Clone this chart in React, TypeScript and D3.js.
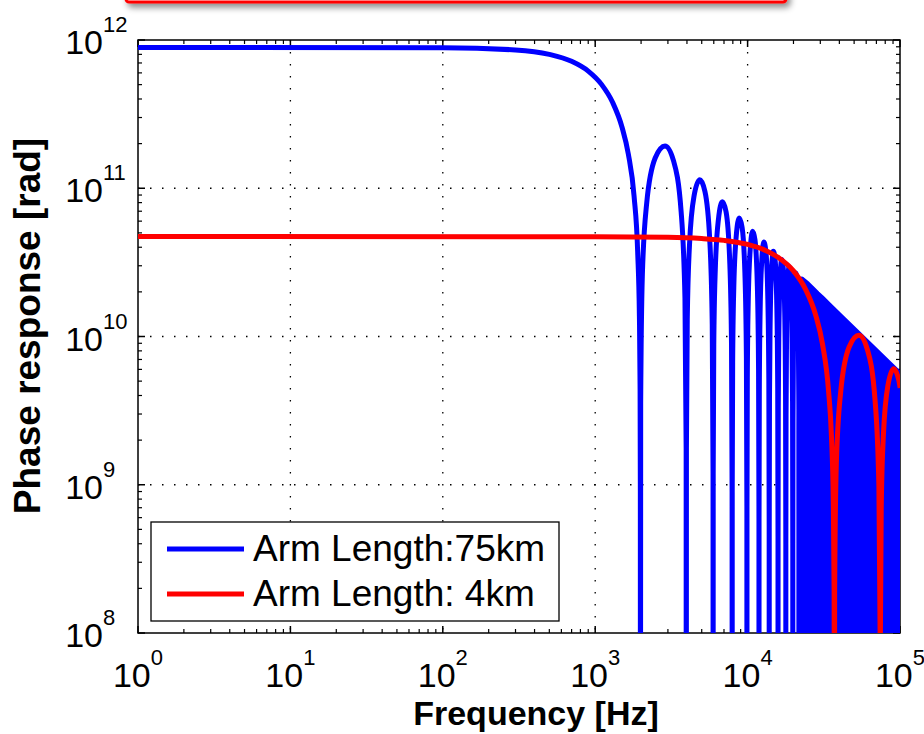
import React from 'react';
import * as d3 from 'd3';

// ---------- data ----------
const xTickValues = [1, 10, 100, 1000, 10000, 100000];
const xTickExponents = ['0', '1', '2', '3', '4', '5'];
const yTickValues = [1e8, 1e9, 1e10, 1e11, 1e12];
const yTickExponents = ['8', '9', '10', '11', '12'];
const legendLabels = ['Arm Length:75km', 'Arm Length: 4km'];
const seriesColors = ['#0000ff', '#ff0000'];
const xTitle = 'Frequency [Hz]';
const yTitle = 'Phase response [rad]';

// Blue (75 km): main lobe and the distinct side lobes; 1e5 marks a null (below the axis)
const blueCurve: [number, number][] = [
  [1, 8.9e11], [100, 8.86e11], [300, 8.57e11], [500, 8.0e11], [700, 7.18e11], [900, 6.17e11],
  [1100, 5.02e11], [1300, 3.8e11], [1500, 2.58e11], [1650, 1.7e11], [1800, 8.8e10], [1900, 3.7e10],
  [1950, 1.37e10], [1970, 4.5e9], [1978, 9e8],
  [1980, 1e5],
  [1988, 3.55e9], [2039, 2.59e10], [2178, 7.96e10], [2475, 1.6e11], [2871, 1.93e11], [3267, 1.53e11], [3663, 6.95e10], [3881, 1.81e10], [3952, 1.78e9],
  [3960, 1e5],
  [3968, 1.78e9], [4019, 1.31e10], [4158, 4.17e10], [4455, 8.9e10], [4851, 1.14e11], [5247, 9.53e10], [5643, 4.51e10], [5861, 1.2e10], [5932, 1.19e9],
  [5940, 1e5],
  [5948, 1.19e9], [5999, 8.8e9], [6138, 2.82e10], [6435, 6.16e10], [6831, 8.11e10], [7227, 6.92e10], [7623, 3.34e10], [7841, 8.97e9], [7912, 8.9e8],
  [7920, 1e5],
  [7928, 8.9e8], [7979, 6.62e9], [8118, 2.14e10], [8415, 4.71e10], [8811, 6.29e10], [9207, 5.43e10], [9603, 2.65e10], [9821, 7.16e9], [9892, 7.1e8],
  [9900, 1e5],
  [9908, 7.1e8], [9959, 5.3e9], [10098, 1.72e10], [10395, 3.82e10], [10791, 5.13e10], [11187, 4.47e10], [11583, 2.2e10], [11801, 5.96e9], [11872, 5.9e8],
  [11880, 1e5],
  [11888, 5.9e8], [11939, 4.42e9], [12078, 1.44e10], [12375, 3.21e10], [12771, 4.34e10], [13167, 3.8e10], [13563, 1.88e10], [13781, 5.1e9], [13852, 5.1e8],
  [13860, 1e5],
  [13868, 5.1e8], [13919, 3.79e9], [14058, 1.23e10], [14355, 2.76e10], [14751, 3.76e10], [15147, 3.3e10], [15543, 1.64e10], [15761, 4.46e9], [15832, 4.5e8],
  [15840, 1e5],
  [15848, 4.5e8], [15899, 3.32e9], [16038, 1.08e10], [16335, 2.43e10], [16731, 3.31e10], [17127, 2.92e10], [17523, 1.45e10], [17741, 3.96e9], [17812, 4.0e8],
  [17820, 1e5],
  [17828, 3.95e8], [17879, 2.95e9], [18018, 9.62e9], [18315, 2.17e10], [18711, 2.96e10], [19107, 2.62e10], [19503, 1.31e10], [19721, 3.56e9], [19792, 3.6e8],
  [19800, 1e5],
  [19808, 3.6e8], [19859, 2.66e9], [19998, 8.67e9], [20295, 1.95e10], [20691, 2.68e10], [21087, 2.37e10], [21483, 1.19e10], [21701, 3.24e9], [21772, 3.2e8],
  [21780, 1e5],
];

// Blue (75 km): dense region where the lobes merge into a solid band (upper envelope)
const blueDenseEnvelope: [number, number][] = [
  [21780, 1e5], [21788, 3.2e8], [21839, 2.42e9], [21978, 7.89e9], [22275, 1.78e10], [22671, 2.44e10],
  [24750, 2.27e10], [26730, 2.1e10], [28710, 1.95e10], [30690, 1.83e10], [34650, 1.62e10], [40590, 1.38e10],
  [50490, 1.11e10], [60390, 9.29e9], [70290, 7.98e9], [80190, 7.0e9], [90090, 6.23e9], [100000, 5.6e9],
];

// Red (4 km)
const redCurve: [number, number][] = [
  [1, 4.72e10], [1000, 4.71e10], [3000, 4.67e10], [5000, 4.58e10], [7000, 4.45e10], [10000, 4.18e10],
  [13000, 3.82e10], [16000, 3.4e10], [20000, 2.77e10], [24000, 2.08e10], [28000, 1.39e10], [31000, 8.9e9],
  [34000, 4.26e9], [35500, 2.12e9], [36500, 7.75e8], [36950, 1.91e8], [37080, 2.6e7],
  [37100, 1e5],
  [37248, 1.88e8], [38213, 1.37e9], [40810, 4.22e9], [46375, 8.5e9], [53795, 1.02e10], [61215, 8.11e9],
  [68635, 3.69e9], [72716, 9.6e8], [74052, 9.5e7],
  [74200, 1e5],
  [74348, 9.4e7], [75313, 6.97e8], [77910, 2.21e9], [83475, 4.72e9], [90895, 6.06e9], [98315, 5.05e9], [100170, 4.5e9],
];

// ---------- layout ----------
const W = 924;
const H = 734;
const PL = 138;
const PR = 900;
const PT = 40;
const PB = 633;
const FONT = "'Liberation Sans', Arial, Helvetica, sans-serif";

export default function App() {
  const x = d3.scaleLog().domain([1, 1e5]).range([PL, PR]);
  const y = d3.scaleLog().domain([1e8, 1e12]).range([PB, PT]);

  const line = d3
    .line<[number, number]>()
    .x((d) => x(d[0]))
    .y((d) => y(d[1]))
    .curve(d3.curveMonotoneX);

  const envLine = d3
    .line<[number, number]>()
    .x((d) => x(d[0]))
    .y((d) => y(d[1]));

  const envArea = d3
    .area<[number, number]>()
    .x((d) => x(d[0]))
    .y0(PB + 10)
    .y1((d) => y(d[1]));

  // minor ticks
  const xMinor: number[] = [];
  for (let e = 0; e < 5; e++) for (let k = 2; k <= 9; k++) xMinor.push(k * Math.pow(10, e));
  const yMinor: number[] = [];
  for (let e = 8; e < 12; e++) for (let k = 2; k <= 9; k++) yMinor.push(k * Math.pow(10, e));

  const majorLen = 7;
  const minorLen = 4;

  return (
    <svg
      width={W}
      height={H}
      style={{ position: 'absolute', left: 0, top: 0, display: 'block', background: '#fff' }}
      fontFamily={FONT}
    >
      <defs>
        <clipPath id="plotClip">
          <rect x={PL} y={PT} width={PR - PL} height={PB - PT} />
        </clipPath>
        <filter id="boxShadow" x="-10%" y="-50%" width="120%" height="250%">
          <feDropShadow dx="3" dy="4" stdDeviation="3" floodColor="#000" floodOpacity="0.45" />
        </filter>
      </defs>
      <rect x={0} y={0} width={W} height={H} fill="#fff" />

      {/* partially visible red box at the top */}
      <rect x={126} y={-40} width={660} height={42} rx={3} fill="#fff" stroke="#ff0000" strokeWidth={3} filter="url(#boxShadow)" />

      {/* grid */}
      <g stroke="#000" strokeWidth={1.3} strokeDasharray="1.5 10.5">
        {xTickValues.slice(1, -1).map((v) => (
          <line key={'gx' + v} x1={x(v)} x2={x(v)} y1={PT} y2={PB} />
        ))}
        {yTickValues.slice(1, -1).map((v) => (
          <line key={'gy' + v} x1={PL} x2={PR} y1={y(v)} y2={y(v)} />
        ))}
      </g>

      {/* frame and ticks */}
      <g stroke="#000" strokeWidth={1.5} fill="none">
        <rect x={PL} y={PT} width={PR - PL} height={PB - PT} />
        {xTickValues.map((v) => (
          <g key={'xt' + v}>
            <line x1={x(v)} x2={x(v)} y1={PB} y2={PB - majorLen} />
            <line x1={x(v)} x2={x(v)} y1={PT} y2={PT + majorLen} />
          </g>
        ))}
        {xMinor.map((v) => (
          <g key={'xm' + v}>
            <line x1={x(v)} x2={x(v)} y1={PB} y2={PB - minorLen} strokeWidth={1.2} />
            <line x1={x(v)} x2={x(v)} y1={PT} y2={PT + minorLen} strokeWidth={1.2} />
          </g>
        ))}
        {yTickValues.map((v) => (
          <g key={'yt' + v}>
            <line x1={PL} x2={PL + majorLen} y1={y(v)} y2={y(v)} />
            <line x1={PR} x2={PR - majorLen} y1={y(v)} y2={y(v)} />
          </g>
        ))}
        {yMinor.map((v) => (
          <g key={'ym' + v}>
            <line x1={PL} x2={PL + minorLen} y1={y(v)} y2={y(v)} strokeWidth={1.2} />
            <line x1={PR} x2={PR - minorLen} y1={y(v)} y2={y(v)} strokeWidth={1.2} />
          </g>
        ))}
      </g>

      {/* data */}
      <g clipPath="url(#plotClip)" fill="none" strokeLinejoin="round" strokeLinecap="butt">
        <path d={envArea(blueDenseEnvelope) || ''} fill={seriesColors[0]} stroke="none" />
        <path d={envLine(blueDenseEnvelope) || ''} stroke={seriesColors[0]} strokeWidth={5} />
        <path d={line(blueCurve) || ''} stroke={seriesColors[0]} strokeWidth={5} />
        <path d={line(redCurve) || ''} stroke={seriesColors[1]} strokeWidth={5} />
      </g>

      {/* tick labels */}
      <g fill="#000">
        {xTickValues.map((v, i) => (
          <text key={'xl' + v} x={x(v)} y={687} textAnchor="middle" fontSize={34}>
            10
            <tspan fontSize={22} dy={-22}>
              {xTickExponents[i]}
            </tspan>
          </text>
        ))}
        {yTickValues.map((v, i) => (
          <g key={'yl' + v}>
            <text x={103} y={y(v) + 14} textAnchor="end" fontSize={34}>
              10
            </text>
            <text x={103} y={y(v) - 8} textAnchor="start" fontSize={22}>
              {yTickExponents[i]}
            </text>
          </g>
        ))}
      </g>

      {/* axis titles */}
      <text x={536} y={725} textAnchor="middle" fontSize={34} fontWeight="bold" fill="#000">
        {xTitle}
      </text>
      <text
        transform={`translate(40, 326) rotate(-90)`}
        textAnchor="middle"
        fontSize={37}
        fontWeight="bold"
        fill="#000"
      >
        {yTitle}
      </text>

      {/* legend */}
      <g>
        <rect x={151} y={522} width={408} height={99} fill="#fff" stroke="#000" strokeWidth={1.3} />
        {legendLabels.map((label, i) => (
          <g key={label}>
            <line x1={167} x2={244} y1={549 + i * 45} y2={549 + i * 45} stroke={seriesColors[i]} strokeWidth={5} />
            <text x={253} y={561 + i * 45} fontSize={37} fill="#000">
              {label}
            </text>
          </g>
        ))}
      </g>
    </svg>
  );
}
